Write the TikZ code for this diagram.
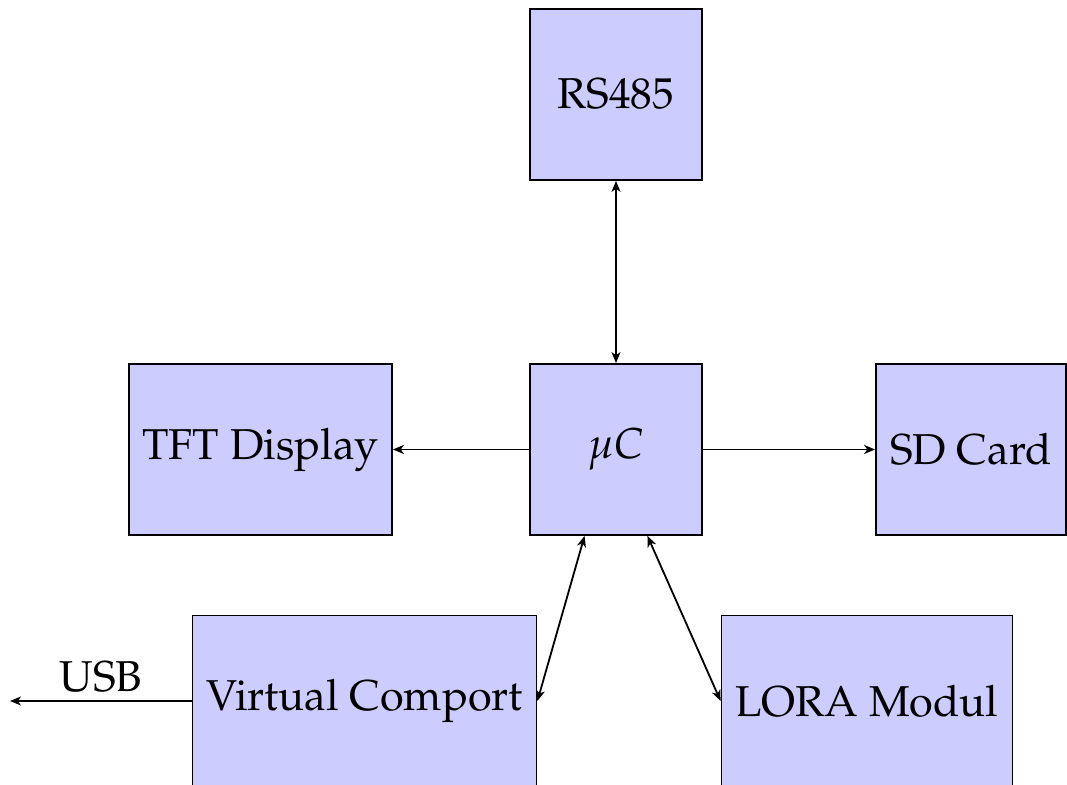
\documentclass[tikz,border=0pt]{standalone}
\usepackage[T1]{fontenc}
\usepackage{mathpazo}
\usetikzlibrary{arrows.meta}
\begin{document}
\begin{tikzpicture}[x=0.5pt,y=-0.5pt,
  blk/.style={draw=black, line width=0.9pt, fill=blue!20, inner sep=0pt,
    minimum height=85.5pt, font=\fontsize{21.6}{26}\selectfont},
  link/.style={line width=0.9pt, >={Stealth[length=5.5pt,width=4.5pt,inset=1.6pt]}}]
\useasboundingbox (0,0) rectangle (1067,785);
\node[blk, minimum width=86pt]    (rs)   at (616,94.5)  {RS485};
\node[blk, minimum width=86pt]    (uc)   at (616,449.5) {$\mu C$};
\node[blk, minimum width=131.5pt] (tft)  at (260.5,449.5) {TFT Display};
\node[blk, minimum width=95pt]    (sd)   at (971,449.5) {SD Card};
\node[blk, minimum width=172pt]   (vc)   at (364.5,701) {Virtual Comport};
\node[blk, minimum width=145.5pt] (lora) at (867,701) {LORA Modul};
\coordinate (usb) at (10,701);
\draw[link,<->] (rs.south) -- (uc.north);
\draw[link,->] (uc.west) -- (tft.east);
\draw[link,->] (uc.east) -- (sd.west);
\draw[link,<->] (uc.250) -- (vc.east);
\draw[link,<->] (uc.290) -- (lora.west);
\draw[link,->] (vc.west) -- node[midway, above, font=\fontsize{21.6}{26}\selectfont, inner sep=4pt] {USB} (usb);
\end{tikzpicture}
\end{document}
